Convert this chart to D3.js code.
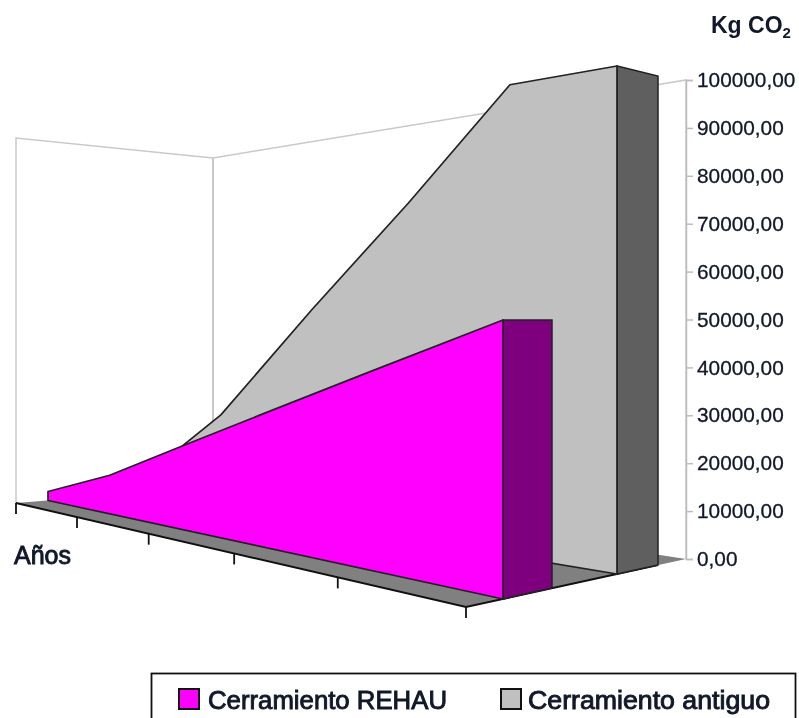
<!DOCTYPE html>
<html lang='en'>
	<head>
		<meta charset='utf-8'>
		<title>Kg CO2</title>
		<script type='text/javascript' src='https://d3js.org/d3.v7.min.js'></script>
		<style type='text/css'>
			html, body { margin: 0; padding: 0; background: #fff; }
			svg { display: block; filter: blur(0.55px); }
			text { font-family: 'Liberation Sans', Arial, sans-serif; fill: #10182a; }
		</style>
	</head>
	<body>
		<script type='text/javascript'>
			var categories = [0, 1, 2, 3, 4, 5];
			var seriesNames = ['Cerramiento REHAU', 'Cerramiento antiguo'];
			var rehauValues = [2500, 10000, 20000, 30000, 40000, 50000];
			var antiguoValues = [2500, 25000, 53000, 77000, 100000, 100000];
			var tickValues = [0, 10000, 20000, 30000, 40000, 50000, 60000, 70000, 80000, 90000, 100000];

			var w = 799;
			var h = 718;

			var svg = d3.select('body').append('svg').attr('width', w).attr('height', h);

			// a "plane" is one vertical slice of the fake 3d box, seen in perspective
			function plane(x0, x1, base0, base1, h0, h1, k) {
				var xPos = d3.scaleLinear().domain([0, 1]).range([x0, x1]);
				var baseY = d3.scaleLinear().domain([x0, x1]).range([base0, base1]);
				var height = d3.scaleLinear().domain([x0, x1]).range([h0, h1]);
				var n = categories.length - 1;
				var value = d3.scaleLinear().domain([0, 100000]).range([0, 1]);
				return function(i, v) {
					var t = i / n;
					var x = xPos(t / (t + k * (1 - t)));
					return [x, baseY(x) - value(v) * height(x)];
				};
			}

			var floorFront = plane(16, 466, 503, 607, 365, 576, 1.594);
			var floorBack = plane(213, 686, 487, 559, 329, 479, 1.05);
			var rehauFront = plane(48, 503, 500.5, 599, 359, 558, 1.594);
			var rehauBack = plane(98, 552, 497, 588, 350, 536, 1.5);
			var antiguoFront = plane(134, 617, 493.6, 574, 343, 508, 1.14);
			var antiguoBack = plane(170, 658, 491, 565, 336, 489, 1.1);

			var last = categories.length - 1;
			var poly = d3.line();

			// walls
			var wallLine = '#c9c9c9';
			svg.append('path')
				.attr('d', poly([floorFront(0, 0), floorFront(0, 100000), floorBack(0, 100000), floorBack(last, 100000), floorBack(last, 0)]))
				.attr('fill', 'none')
				.attr('stroke', wallLine)
				.attr('stroke-width', 1.5);
			svg.append('path')
				.attr('d', poly([floorBack(0, 100000), floorBack(0, 0)]))
				.attr('stroke', wallLine)
				.attr('stroke-width', 2);

			// floor
			svg.append('path')
				.attr('d', poly([floorFront(0, 0), floorFront(last, 0), floorBack(last, 0), floorBack(0, 0)]) + 'Z')
				.attr('fill', '#808080');
			svg.append('path')
				.attr('d', poly([floorFront(0, 0), floorFront(last, 0), antiguoBack(last, 0)]))
				.attr('fill', 'none')
				.attr('stroke', '#111')
				.attr('stroke-width', 2);

			// category ticks
			svg.selectAll('.catTick')
				.data(categories)
				.enter()
				.append('line')
				.attr('class', 'catTick')
				.attr('x1', function(d) { return floorFront(d, 0)[0]; })
				.attr('x2', function(d) { return floorFront(d, 0)[0]; })
				.attr('y1', function(d) { return floorFront(d, 0)[1]; })
				.attr('y2', function(d) { return floorFront(d, 0)[1] + 11; })
				.attr('stroke', '#111')
				.attr('stroke-width', 1.8);

			// value axis
			var yScale = d3.scaleLinear()
				.domain([0, 100000])
				.range([floorBack(last, 0)[1], floorBack(last, 100000)[1]]);
			var es = d3.formatLocale({ decimal: ',', thousands: '', grouping: [3], currency: ['', ''] });
			var yAxis = d3.axisRight(yScale)
				.tickValues(tickValues)
				.tickSize(7)
				.tickPadding(4)
				.tickFormat(es.format('.2f'));
			var axisG = svg.append('g')
				.attr('transform', 'translate(' + floorBack(last, 0)[0] + ',0)')
				.call(yAxis);
			axisG.selectAll('.domain, .tick line').attr('stroke', '#bdbdbd').attr('stroke-width', 1.5);
			axisG.selectAll('text')
				.attr('font-size', 20.8)
				.style('font-family', "'Liberation Sans', Arial, sans-serif")
				.attr('fill', '#10182a')
				.attr('stroke', '#10182a')
				.attr('stroke-width', 0.3);

			// one solid per series, back to front
			function drawSeries(values, front, back, faceColor, sideColor) {
				var top = values.map(function(v, i) { return front(i, v); });
				var face = [front(0, 0)].concat(top, [front(last, 0)]);
				svg.append('path')
					.attr('d', poly([front(last, 0), front(last, values[last]), back(last, values[last]), back(last, 0)]) + 'Z')
					.attr('fill', sideColor)
					.attr('stroke', '#222')
					.attr('stroke-width', 1.5);
				svg.append('path')
					.attr('d', poly(face) + 'Z')
					.attr('fill', faceColor)
					.attr('stroke', '#222')
					.attr('stroke-width', 1.7)
					.attr('stroke-linejoin', 'round');
			}
			drawSeries(antiguoValues, antiguoFront, antiguoBack, '#c0c0c0', '#5f5f5f');
			drawSeries(rehauValues, rehauFront, rehauBack, '#ff00ff', '#7f007f');

			// labels
			var unit = svg.append('text')
				.attr('x', 711)
				.attr('y', 33)
				.attr('font-size', 23)
				.attr('font-weight', 'bold');
			unit.append('tspan').text('Kg CO');
			unit.append('tspan').attr('font-size', 15).attr('dy', 5).text('2');

			svg.append('text')
				.attr('x', 14)
				.attr('y', 564)
				.attr('font-size', 25)
				.attr('stroke', '#10182a')
				.attr('stroke-width', 0.9)
				.text('Años');

			// legend, box runs off the bottom of the picture
			svg.append('rect')
				.attr('x', 151.5)
				.attr('y', 673.5)
				.attr('width', 644)
				.attr('height', 60)
				.attr('fill', '#fff')
				.attr('stroke', '#111')
				.attr('stroke-width', 1.8);
			var legendColors = ['#ff00ff', '#c0c0c0'];
			var legendTextWidths = [239, 242];
			var legendX = d3.scaleOrdinal().domain(seriesNames).range([179, 501]);
			var legend = svg.selectAll('.legendItem')
				.data(seriesNames)
				.enter()
				.append('g')
				.attr('class', 'legendItem')
				.attr('transform', function(d) { return 'translate(' + legendX(d) + ',689)'; });
			legend.append('rect')
				.attr('width', 20)
				.attr('height', 20)
				.attr('fill', function(d, i) { return legendColors[i]; })
				.attr('stroke', '#111')
				.attr('stroke-width', 2);
			legend.append('text')
				.attr('x', function(d, i) { return i ? 27 : 29; })
				.attr('y', 20)
				.attr('font-size', 25)
				.attr('stroke', '#10182a')
				.attr('stroke-width', 0.9)
				.attr('lengthAdjust', 'spacingAndGlyphs')
				.attr('textLength', function(d, i) { return legendTextWidths[i]; })
				.text(function(d) { return d; });
		</script>
	</body>
</html>
